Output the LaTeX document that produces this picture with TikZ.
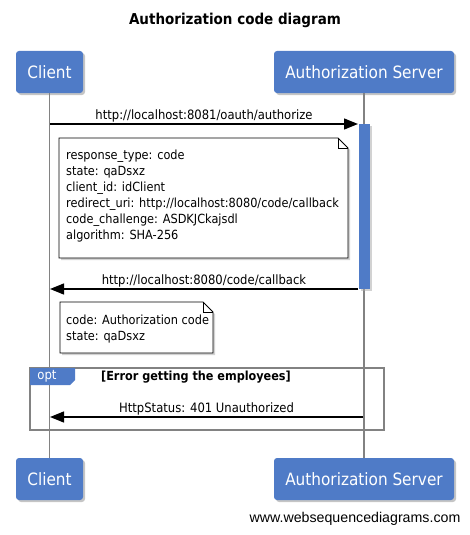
\documentclass[tikz,border=0pt]{standalone}
\usepackage{fontspec}
\setmainfont{DejaVu Sans Condensed}
\newfontfamily\sitefont{Liberation Sans}
\usetikzlibrary{arrows.meta,shadows}
\definecolor{actorblue}{RGB}{79,123,199}
\definecolor{linegray}{RGB}{130,130,130}

\begin{document}
\begin{tikzpicture}[x=1pt,y=-1pt,
  actor/.style={fill=actorblue, rounded corners=3pt, minimum height=42pt,
    inner sep=0pt, text=white, font=\fontsize{17}{20}\selectfont,
    drop shadow={shadow xshift=2pt, shadow yshift=-2pt, fill=black!45}},
  lifeline/.style={draw=linegray, line width=1.5pt},
  message/.style={line width=1.3pt, -{Triangle[length=14pt,width=11pt]}},
  msglabel/.style={font=\fontsize{12.9}{15}\selectfont, inner sep=1pt},
  notebox/.style={draw=black, fill=white, line width=0.8pt,
    drop shadow={shadow xshift=2pt, shadow yshift=-2pt, fill=black!35}},
  notetext/.style={anchor=north west, inner sep=0pt, align=left,
    font=\fontsize{12.6}{16}\selectfont}]
  \useasboundingbox (0,0) rectangle (470,535);

  % title
  \node[font=\bfseries\fontsize{15}{18}\selectfont] (title) at (235,20) {Authorization code diagram};

  % participants
  \node[actor, minimum width=67pt] (client) at (49.5,72) {Client};
  \node[actor, minimum width=180pt] (server) at (364,72) {Authorization Server};
  \node[actor, minimum width=67pt] (clientb) at (49.5,479) {Client};
  \node[actor, minimum width=180pt] (serverb) at (364,479) {Authorization Server};

  % lifelines
  \draw[lifeline] (client) -- (clientb);
  \draw[lifeline] (server) -- (serverb);

  % activation
  \fill[actorblue, drop shadow={shadow xshift=1.5pt, shadow yshift=-1.5pt, fill=black!35}]
    (359,124) rectangle (370,289);

  % message ends
  \coordinate (c1) at (50,124);
  \coordinate (s1) at (358,124);
  \coordinate (s2) at (358,289);
  \coordinate (c2) at (50,289);
  \coordinate (s3) at (363,417);
  \coordinate (c3) at (50,417);

  \draw[message] (c1) -- node[msglabel, above=0pt] {http://localhost:8081/oauth/authorize} (s1);

  % first note
  \path[notebox] (59,138) -- (338,138) -- (348,148) -- (348,258) -- (59,258) -- cycle;
  \draw[line width=0.6pt] (338,138) -- (338,148) -- (348,148);
  \node[notetext] (note1) at (66,150) {response\_type: code\\
    state: qaDsxz\\
    client\_id: idClient\\
    redirect\_uri: http://localhost:8080/code/callback\\
    code\_challenge: ASDKJCkajsdl\\
    algorithm: SHA-256};

  \draw[message] (s2) -- node[msglabel, above=0pt] {http://localhost:8080/code/callback} (c2);

  % second note
  \path[notebox] (60,302) -- (203,302) -- (213,312) -- (213,353) -- (60,353) -- cycle;
  \draw[line width=0.6pt] (203,302) -- (203,312) -- (213,312);
  \node[notetext] (note2) at (66,315) {code: Authorization code\\
    state: qaDsxz};

  % opt frame
  \draw[draw=linegray, line width=1.5pt] (30,368) rectangle (384,430);
  \fill[actorblue] (30,368) -- (75,368) -- (75,380) -- (70,385) -- (30,385) -- cycle;
  \node[text=white, font=\fontsize{13}{15}\selectfont] (opt) at (47,376) {opt};
  \node[font=\bfseries\fontsize{12.5}{15}\selectfont] (guard) at (196,377) {[Error getting the employees]};

  \draw[message] (s3) -- node[msglabel, above=0pt] {HttpStatus: 401 Unauthorized} (c3);

  % footer
  \node[font=\sitefont\fontsize{14.2}{16}\selectfont] (site) at (355,519) {www.websequencediagrams.com};
\end{tikzpicture}
\end{document}
